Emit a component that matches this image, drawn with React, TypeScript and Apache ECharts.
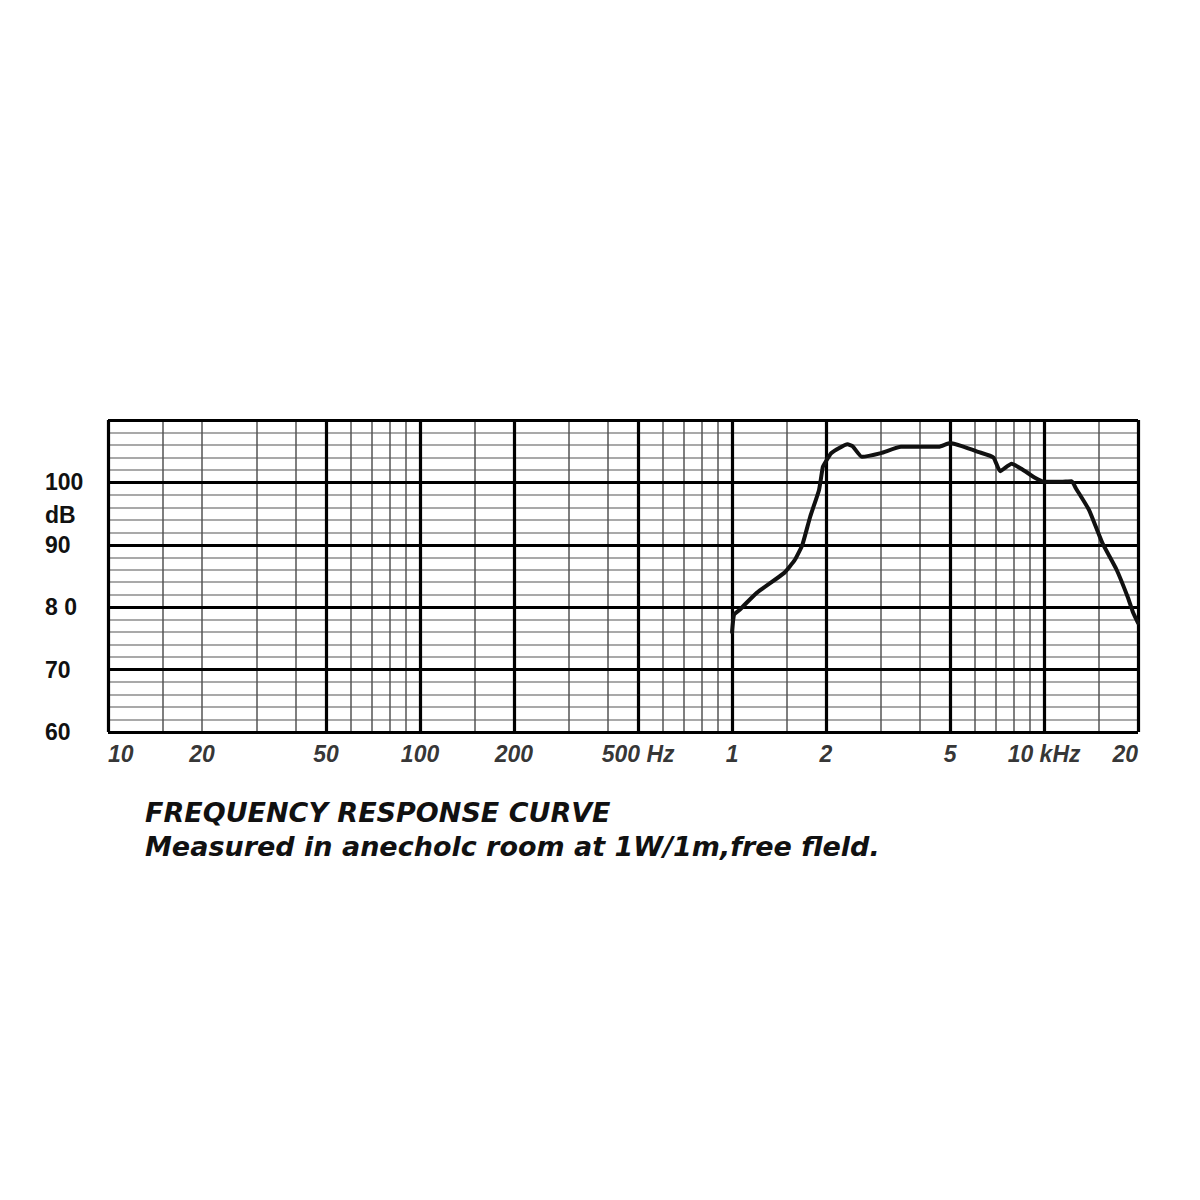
import React, { useEffect, useRef } from "react";
import * as echarts from "echarts";

// Frequency response curve (Hz, dB)
const FREQ_HZ = [1000, 1015, 1053, 1200, 1470, 1590, 1680, 1780, 1900, 1955, 2000, 2080, 2345, 2434, 2606, 3000, 3480, 4000, 4600, 5000, 5450, 6140, 6880, 7230, 7870, 8500, 9380, 10000, 11100, 12260, 12630, 13930, 15370, 17080, 18550, 19270, 20000];
const LEVEL_DB = [76.0, 78.8, 79.5, 82.3, 85.5, 87.6, 90.0, 94.5, 98.8, 102.5, 103.4, 104.7, 106.1, 105.8, 104.1, 104.7, 105.7, 105.7, 105.7, 106.3, 105.8, 104.9, 104.0, 101.8, 103.0, 102.1, 100.7, 100.1, 100.1, 100.2, 99.1, 95.6, 90.3, 86.0, 81.6, 79.2, 77.5];

// Grid lines
const MAJOR_FREQ = [10, 50, 100, 200, 500, 1000, 2000, 5000, 10000, 20000];
const MINOR_FREQ = [15, 20, 30, 40, 60, 70, 80, 90, 150, 300, 400, 600, 700, 800, 900, 1500, 3000, 4000, 6000, 7000, 8000, 9000, 15000];
const MAJOR_DB = [60, 70, 80, 90, 100, 110];

// Tick labels
const X_TICK_FREQ = [10, 20, 50, 100, 200, 500, 1000, 2000, 5000, 10000, 20000];
const X_TICK_TEXT = ["10", "20", "50", "100", "200", "500 Hz", "1", "2", "5", "10 kHz", "20"];
const Y_TICK_DB = [60, 70, 80, 90, 100];
const Y_TICK_TEXT = ["60", "70", "8 0", "90", "100"];

const TITLE_1 = "FREQUENCY RESPONSE CURVE";
const TITLE_2 = "Measured in anecholc room at 1W/1m,free fleld.";

const X_MIN = 10;
const X_MAX = 20000;
const Y_MIN = 60;
const Y_MAX = 110;

export default function App() {
  const ref = useRef<HTMLDivElement>(null);

  useEffect(() => {
    if (!ref.current) return;
    const chart = echarts.init(ref.current, null, { renderer: "svg" });

    const gridLines: any[] = [];
    MINOR_FREQ.forEach((f) =>
      gridLines.push({ xAxis: f, lineStyle: { color: "#555", width: 1.5, type: "solid" } })
    );
    MAJOR_FREQ.forEach((f) =>
      gridLines.push({ xAxis: f, lineStyle: { color: "#000", width: 3.2, type: "solid" } })
    );
    MAJOR_DB.forEach((d) =>
      gridLines.push({ yAxis: d, lineStyle: { color: "#000", width: 3.2, type: "solid" } })
    );

    const labelData = X_TICK_FREQ.map((f, i) => ({
      value: [f, Y_MIN],
      label: {
        formatter: X_TICK_TEXT[i],
        align: i === 0 ? "left" : i === X_TICK_FREQ.length - 1 ? "right" : "center",
      },
    }));

    const option: any = {
      animation: false,
      backgroundColor: "#fff",
      grid: {
        left: 108,
        right: 62,
        top: 420,
        bottom: 468,
        show: false,
      },
      xAxis: {
        type: "log",
        logBase: 10,
        min: X_MIN,
        max: X_MAX,
        axisLine: { show: false },
        axisTick: { show: false },
        axisLabel: { show: false },
        splitLine: { show: false },
        minorSplitLine: { show: false },
      },
      yAxis: {
        type: "value",
        min: Y_MIN,
        max: Y_MAX,
        interval: 2,
        axisLine: { show: false },
        axisTick: { show: false },
        splitLine: { show: true, lineStyle: { color: "#8c8c8c", width: 1.6 } },
        axisLabel: {
          margin: 63,
          align: "left",
          color: "#111",
          fontFamily: "Liberation Sans",
          fontWeight: "bold",
          fontSize: 23,
          formatter: (v: number) => {
            const idx = Y_TICK_DB.indexOf(Math.round(v));
            return idx >= 0 && Math.abs(v - Y_TICK_DB[idx]) < 1e-6 ? Y_TICK_TEXT[idx] : "";
          },
        },
      },
      graphic: [
        {
          type: "text",
          left: 45,
          top: 503,
          style: {
            text: "dB",
            fill: "#111",
            font: "bold 23px 'Liberation Sans'",
          },
        },
        {
          type: "text",
          left: 145,
          top: 799,
          style: {
            text: TITLE_1,
            fill: "#111",
            font: "italic bold 27px 'DejaVu Sans'",
          },
        },
        {
          type: "text",
          left: 145,
          top: 833,
          style: {
            text: TITLE_2,
            fill: "#111",
            font: "italic bold 27px 'DejaVu Sans'",
          },
        },
      ],
      series: [
        {
          type: "line",
          data: [],
          z: 1,
          silent: true,
          markLine: {
            silent: true,
            symbol: ["none", "none"],
            label: { show: false },
            emphasis: { disabled: true },
            data: gridLines,
          },
        },
        {
          type: "scatter",
          data: labelData,
          symbolSize: 0,
          silent: true,
          z: 3,
          label: {
            show: true,
            position: "bottom",
            distance: 10,
            color: "#000",
            fontFamily: "Liberation Sans",
            fontStyle: "italic",
            fontWeight: "bold",
            fontSize: 23,
          },
        },
        {
          type: "line",
          data: FREQ_HZ.map((f, i) => [f, LEVEL_DB[i]]),
          z: 10,
          symbol: "none",
          smooth: 0.15,
          silent: true,
          lineStyle: { color: "#111", width: 4, join: "round", cap: "round" },
        },
      ],
    };

    chart.setOption(option);
    return () => chart.dispose();
  }, []);

  return (
    <div
      ref={ref}
      style={{ position: "absolute", left: 0, top: 0, width: 1200, height: 1200, background: "#fff" }}
    />
  );
}
